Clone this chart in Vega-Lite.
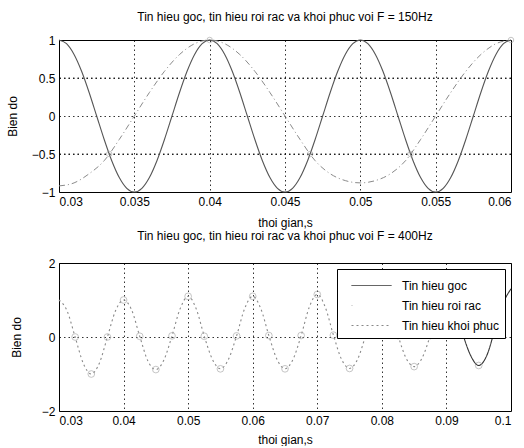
{
  "$schema": "https://vega.github.io/schema/vega-lite/v6.json",
  "background": "white",
  "padding": {"left": 5, "top": 10, "right": 10, "bottom": 0},
  "spacing": 0,
  "resolve": {"legend": {"color": "independent", "strokeDash": "independent"}},
  "config": {
    "font": "Liberation Sans",
    "view": {"stroke": "black", "strokeWidth": 1},
    "axis": {
      "labelFont": "Liberation Sans", "labelFontSize": 12, "labelColor": "black",
      "titleFont": "Liberation Sans", "titleFontSize": 12, "titleFontWeight": "normal", "titleColor": "black",
      "grid": true, "gridColor": "black", "gridDash": [1.5, 3], "gridOpacity": 0.8,
      "domain": false, "ticks": false, "labelPadding": 4, "labelOverlap": false
    },
    "title": {"font": "Liberation Sans", "fontSize": 12, "fontWeight": "normal", "color": "black", "offset": 10}
  },
  "datasets": {
    "grid150": [{"g": -0.5}, {"g": 0.5}],
    "orig150": [
      {"t":0.03,"y":1},{"t":0.0305,"y":0.9511},{"t":0.031,"y":0.809},{"t":0.0315,"y":0.5878},{"t":0.032,"y":0.309},{"t":0.0325,"y":0},{"t":0.033,"y":-0.309},{"t":0.0335,"y":-0.5878},{"t":0.034,"y":-0.809},{"t":0.0345,"y":-0.9511},
      {"t":0.035,"y":-1},{"t":0.0355,"y":-0.9511},{"t":0.036,"y":-0.809},{"t":0.0365,"y":-0.5878},{"t":0.037,"y":-0.309},{"t":0.0375,"y":0},{"t":0.038,"y":0.309},{"t":0.0385,"y":0.5878},{"t":0.039,"y":0.809},{"t":0.0395,"y":0.9511},
      {"t":0.04,"y":1},{"t":0.0405,"y":0.9511},{"t":0.041,"y":0.809},{"t":0.0415,"y":0.5878},{"t":0.042,"y":0.309},{"t":0.0425,"y":0},{"t":0.043,"y":-0.309},{"t":0.0435,"y":-0.5878},{"t":0.044,"y":-0.809},{"t":0.0445,"y":-0.9511},
      {"t":0.045,"y":-1},{"t":0.0455,"y":-0.9511},{"t":0.046,"y":-0.809},{"t":0.0465,"y":-0.5878},{"t":0.047,"y":-0.309},{"t":0.0475,"y":0},{"t":0.048,"y":0.309},{"t":0.0485,"y":0.5878},{"t":0.049,"y":0.809},{"t":0.0495,"y":0.9511},
      {"t":0.05,"y":1},{"t":0.0505,"y":0.9511},{"t":0.051,"y":0.809},{"t":0.0515,"y":0.5878},{"t":0.052,"y":0.309},{"t":0.0525,"y":0},{"t":0.053,"y":-0.309},{"t":0.0535,"y":-0.5878},{"t":0.054,"y":-0.809},{"t":0.0545,"y":-0.9511},
      {"t":0.055,"y":-1},{"t":0.0555,"y":-0.9511},{"t":0.056,"y":-0.809},{"t":0.0565,"y":-0.5878},{"t":0.057,"y":-0.309},{"t":0.0575,"y":0},{"t":0.058,"y":0.309},{"t":0.0585,"y":0.5878},{"t":0.059,"y":0.809},{"t":0.0595,"y":0.9511},{"t":0.06,"y":1}
    ],
    "rec150": [
      {"t":0.03,"y":-0.92},{"t":0.031,"y":-0.88},{"t":0.032,"y":-0.76},{"t":0.033,"y":-0.5878},{"t":0.034,"y":-0.309},{"t":0.035,"y":0},{"t":0.036,"y":0.309},{"t":0.037,"y":0.5878},{"t":0.038,"y":0.809},{"t":0.039,"y":0.9511},
      {"t":0.04,"y":1},{"t":0.041,"y":0.9511},{"t":0.042,"y":0.809},{"t":0.043,"y":0.5878},{"t":0.044,"y":0.309},{"t":0.045,"y":0},{"t":0.046,"y":-0.309},{"t":0.047,"y":-0.5878},{"t":0.048,"y":-0.76},{"t":0.049,"y":-0.85},
      {"t":0.05,"y":-0.88},{"t":0.051,"y":-0.85},{"t":0.052,"y":-0.76},{"t":0.053,"y":-0.5878},{"t":0.054,"y":-0.309},{"t":0.055,"y":0},{"t":0.056,"y":0.309},{"t":0.057,"y":0.5878},{"t":0.058,"y":0.809},{"t":0.059,"y":0.9511},{"t":0.06,"y":1}
    ],
    "samp150": [
      {"t":0.03333,"y":-0.5},{"t":0.04,"y":1},{"t":0.04667,"y":-0.5},{"t":0.05333,"y":-0.5},{"t":0.06,"y":1}
    ],
    "lines400": [
      {"s":"Tin hieu khoi phuc","t":0.03,"y":1},{"s":"Tin hieu khoi phuc","t":0.03125,"y":0.707},{"s":"Tin hieu khoi phuc","t":0.0325,"y":0},{"s":"Tin hieu khoi phuc","t":0.03375,"y":-0.707},{"s":"Tin hieu khoi phuc","t":0.035,"y":-1},{"s":"Tin hieu khoi phuc","t":0.03625,"y":-0.707},{"s":"Tin hieu khoi phuc","t":0.0375,"y":0},{"s":"Tin hieu khoi phuc","t":0.03875,"y":0.707},
      {"s":"Tin hieu khoi phuc","t":0.04,"y":1},{"s":"Tin hieu khoi phuc","t":0.04125,"y":0.73},{"s":"Tin hieu khoi phuc","t":0.0425,"y":0.02},{"s":"Tin hieu khoi phuc","t":0.04375,"y":-0.64},{"s":"Tin hieu khoi phuc","t":0.045,"y":-0.88},{"s":"Tin hieu khoi phuc","t":0.04625,"y":-0.62},{"s":"Tin hieu khoi phuc","t":0.0475,"y":0.03},{"s":"Tin hieu khoi phuc","t":0.04875,"y":0.76},
      {"s":"Tin hieu khoi phuc","t":0.05,"y":1.1},{"s":"Tin hieu khoi phuc","t":0.05125,"y":0.76},{"s":"Tin hieu khoi phuc","t":0.0525,"y":0.02},{"s":"Tin hieu khoi phuc","t":0.05375,"y":-0.6},{"s":"Tin hieu khoi phuc","t":0.055,"y":-0.86},{"s":"Tin hieu khoi phuc","t":0.05625,"y":-0.6},{"s":"Tin hieu khoi phuc","t":0.0575,"y":0.03},{"s":"Tin hieu khoi phuc","t":0.05875,"y":0.77},
      {"s":"Tin hieu khoi phuc","t":0.06,"y":1.1},{"s":"Tin hieu khoi phuc","t":0.06125,"y":0.77},{"s":"Tin hieu khoi phuc","t":0.0625,"y":0.04},{"s":"Tin hieu khoi phuc","t":0.06375,"y":-0.6},{"s":"Tin hieu khoi phuc","t":0.065,"y":-0.86},{"s":"Tin hieu khoi phuc","t":0.06625,"y":-0.6},{"s":"Tin hieu khoi phuc","t":0.0675,"y":0.04},{"s":"Tin hieu khoi phuc","t":0.06875,"y":0.8},
      {"s":"Tin hieu khoi phuc","t":0.07,"y":1.15},{"s":"Tin hieu khoi phuc","t":0.07125,"y":0.8},{"s":"Tin hieu khoi phuc","t":0.0725,"y":0.05},{"s":"Tin hieu khoi phuc","t":0.07375,"y":-0.6},{"s":"Tin hieu khoi phuc","t":0.075,"y":-0.85},{"s":"Tin hieu khoi phuc","t":0.07625,"y":-0.6},{"s":"Tin hieu khoi phuc","t":0.0775,"y":0.05},{"s":"Tin hieu khoi phuc","t":0.07875,"y":0.78},
      {"s":"Tin hieu khoi phuc","t":0.08,"y":1.1},{"s":"Tin hieu khoi phuc","t":0.08125,"y":0.78},{"s":"Tin hieu khoi phuc","t":0.0825,"y":0.04},{"s":"Tin hieu khoi phuc","t":0.08375,"y":-0.57},{"s":"Tin hieu khoi phuc","t":0.085,"y":-0.8},{"s":"Tin hieu khoi phuc","t":0.08625,"y":-0.56},{"s":"Tin hieu khoi phuc","t":0.0875,"y":0.04},{"s":"Tin hieu khoi phuc","t":0.08875,"y":0.75},
      {"s":"Tin hieu khoi phuc","t":0.09,"y":1.05},{"s":"Tin hieu khoi phuc","t":0.09125,"y":0.74},{"s":"Tin hieu khoi phuc","t":0.0925,"y":0.1},
      {"s":"Tin hieu goc","t":0.0925,"y":0.1},{"s":"Tin hieu goc","t":0.09375,"y":-0.5},{"s":"Tin hieu goc","t":0.095,"y":-0.77},{"s":"Tin hieu goc","t":0.09625,"y":-0.5},{"s":"Tin hieu goc","t":0.0975,"y":0.2},{"s":"Tin hieu goc","t":0.09875,"y":0.9},{"s":"Tin hieu goc","t":0.1,"y":1.3}
    ],
    "samp400": [
      {"t":0.0325,"y":0},{"t":0.035,"y":-1},{"t":0.0375,"y":0},{"t":0.04,"y":1},{"t":0.0425,"y":0.02},{"t":0.045,"y":-0.88},{"t":0.0475,"y":0.03},{"t":0.05,"y":1.1},
      {"t":0.0525,"y":0.02},{"t":0.055,"y":-0.86},{"t":0.0575,"y":0.03},{"t":0.06,"y":1.1},{"t":0.0625,"y":0.04},{"t":0.065,"y":-0.86},{"t":0.0675,"y":0.04},{"t":0.07,"y":1.15},
      {"t":0.0725,"y":0.05},{"t":0.075,"y":-0.85},{"t":0.0775,"y":0.05},{"t":0.0825,"y":0.04},{"t":0.085,"y":-0.8},{"t":0.0875,"y":0.04},{"t":0.0925,"y":0.1},{"t":0.095,"y":-0.77},{"t":0.0975,"y":0.2}
    ]
  },
  "vconcat": [
    {
      "title": {"text": "Tin hieu goc, tin hieu roi rac va khoi phuc voi F = 150Hz"},
      "width": 452, "height": 152,
      "layer": [
        {
          "data": {"name": "grid150"},
          "mark": {"type": "rule", "color": "black", "strokeDash": [1.5, 3], "opacity": 0.8, "strokeWidth": 1},
          "encoding": {"y": {"field": "g", "type": "quantitative"}}
        },
        {
          "data": {"name": "orig150"},
          "mark": {"type": "line", "color": "#555555", "strokeWidth": 1.1, "interpolate": "monotone"},
          "encoding": {
            "x": {"field": "t", "type": "quantitative", "scale": {"domain": [0.03, 0.06], "nice": false, "zero": false},
                  "axis": {"values": [0.03, 0.035, 0.04, 0.045, 0.05, 0.055, 0.06], "format": "~g", "title": "thoi gian,s", "titlePadding": 10}},
            "y": {"field": "y", "type": "quantitative", "scale": {"domain": [-1, 1], "nice": false, "zero": false},
                  "axis": {"tickCount": 5, "format": "~g", "title": "Bien do", "titlePadding": 12}}
          }
        },
        {
          "data": {"name": "rec150"},
          "mark": {"type": "line", "color": "#8a8a8a", "strokeWidth": 1, "strokeDash": [6, 3, 1, 3], "interpolate": "monotone"},
          "encoding": {"x": {"field": "t", "type": "quantitative"}, "y": {"field": "y", "type": "quantitative"}}
        },
        {
          "data": {"name": "samp150"},
          "mark": {"type": "point", "shape": "circle", "filled": false, "color": "#999999", "size": 30, "strokeWidth": 0.8},
          "encoding": {"x": {"field": "t", "type": "quantitative"}, "y": {"field": "y", "type": "quantitative"}}
        }
      ]
    },
    {
      "title": {"text": "Tin hieu goc, tin hieu roi rac va khoi phuc voi F = 400Hz", "offset": 14},
      "width": 452, "height": 148,
      "layer": [
        {
          "data": {"name": "lines400"},
          "mark": {"type": "line", "interpolate": "monotone", "strokeWidth": 1.1},
          "encoding": {
            "x": {"field": "t", "type": "quantitative", "scale": {"domain": [0.03, 0.1], "nice": false, "zero": false},
                  "axis": {"values": [0.03, 0.04, 0.05, 0.06, 0.07, 0.08, 0.09, 0.1], "format": "~g", "title": "thoi gian,s", "titlePadding": 8}},
            "y": {"field": "y", "type": "quantitative", "scale": {"domain": [-2, 2], "nice": false},
                  "axis": {"values": [-2, -1, 0, 1, 2], "format": "~g", "title": "Bien do", "titlePadding": 18}},
            "color": {"field": "s", "type": "nominal",
                      "scale": {"domain": ["Tin hieu goc", "Tin hieu roi rac", "Tin hieu khoi phuc"], "range": ["#333333", "#bbbbbb", "#888888"]},
                      "legend": {"title": null, "orient": "top-right", "offset": 6, "strokeColor": "black", "fillColor": "white",
                                 "padding": 6, "labelFontSize": 12, "labelColor": "black", "symbolType": "M-2,0H2", "symbolSize": 400,
                                 "symbolStrokeWidth": 1, "symbolOffset": 18, "rowPadding": 3, "labelOffset": 20}},
            "strokeDash": {"field": "s", "type": "nominal",
                           "scale": {"domain": ["Tin hieu goc", "Tin hieu roi rac", "Tin hieu khoi phuc"], "range": [[1, 0], [1, 40], [2, 3]]},
                           "legend": null}
          }
        },
        {
          "data": {"name": "samp400"},
          "mark": {"type": "point", "shape": "circle", "filled": false, "color": "#999999", "size": 45, "strokeWidth": 0.8},
          "encoding": {"x": {"field": "t", "type": "quantitative"}, "y": {"field": "y", "type": "quantitative"}}
        }
      ]
    }
  ]
}
